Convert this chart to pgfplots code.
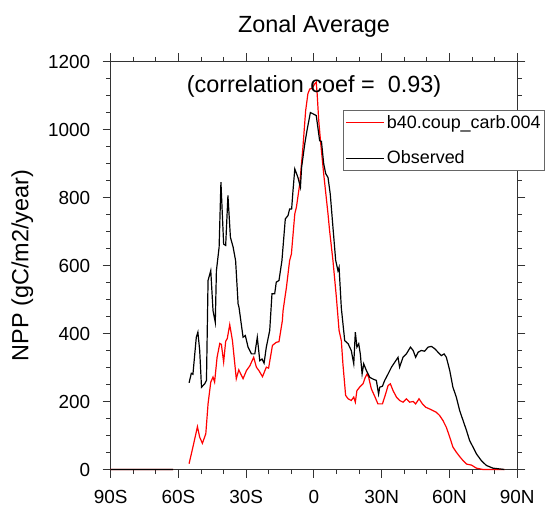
\documentclass[border=0pt]{standalone}
\usepackage{fontspec}
\setmainfont{Liberation Sans}
\usepackage{pgfplots}
\pgfplotsset{compat=1.18}

\begin{document}
\begin{tikzpicture}
\useasboundingbox (-110.7bp,-38.5bp) rectangle (436.3bp,469.5bp);
\begin{axis}[
  at={(0,0)}, anchor=south west,
  scale only axis, width=406.6bp, height=408bp,
  xmin=-90, xmax=90, ymin=0, ymax=1200,
  xtick={-90,-60,-30,0,30,60,90},
  xticklabels={90S,60S,30S,0,30N,60N,90N},
  ytick={0,200,400,600,800,1000,1200},
  minor x tick num=2, minor y tick num=3,
  tick align=outside,
  major tick length=8bp, minor tick length=4.5bp,
  axis line style={line width=1.2bp, black!80},
  every tick/.style={line width=1bp, black!80},
  tick label style={font=\fontsize{19}{21}\selectfont},
  xticklabel style={yshift=-9bp},
  yticklabel style={xshift=-9bp},
  /pgf/number format/assume math mode=true,
  /pgf/number format/1000 sep={},
  unbounded coords=jump,
  clip=false,
  legend cell align=left,
  legend style={at={(0.572,0.881)}, anchor=north west,
    draw=black!60, line width=0.8bp,
    font=\fontsize{18}{20}\selectfont,
    inner xsep=2bp, inner ysep=3bp, row sep=17bp},
  legend image code/.code={\draw[#1, line width=1.3bp] (0bp,0bp) -- (38bp,0bp);},
]
% model
\addplot[draw=red, line width=1.2bp] coordinates {
(-90,0) (-62.4,0) (-58,nan)
(-55.3,17) (-53.6,66) (-51.6,126) (-50.6,95) (-49.4,77) (-47.9,105)
(-46.9,193) (-45.7,257) (-44.7,272) (-44.0,257) (-42.9,330) (-41.7,371)
(-41.0,368) (-40.0,316) (-39.1,377) (-38.4,385) (-37.3,426) (-36.1,379)
(-34.4,267) (-33.3,293) (-31.4,267) (-29.9,291) (-28.4,305) (-26.7,330)
(-25.5,301) (-24.3,290) (-22.8,273) (-21.1,301) (-20.1,298) (-18.4,365)
(-16.7,374) (-15.5,376) (-14.0,438) (-13.7,467) (-12.2,536) (-10.8,614)
(-10.0,634) (-8.5,752) (-7.8,771) (-6.3,840) (-4.9,948) (-3.7,1055)
(-2.7,1105) (-1.9,1119) (-0.8,1121) (0.3,1134) (1.0,1139) (1.4,1105)
(2.1,1026) (3.0,958) (4.3,869) (6.2,752) (6.9,703) (8.4,614) (9.9,507)
(11.1,409) (12.1,379) (12.8,311) (14.0,218) (15.1,208) (16.5,203)
(17.6,213) (18.3,198) (19.0,232) (20.2,242) (21.7,252) (22.7,271)
(23.5,281) (24.2,271) (25.4,237) (26.9,215) (28.3,193) (30.3,193)
(31.7,222) (32.8,247) (33.8,252) (35.0,232) (36.5,213) (37.9,203)
(39.4,198) (40.9,208) (42.4,198) (43.9,200) (45.0,193) (46.5,208)
(48.0,193) (49.5,183) (51.2,178) (52.7,173) (54.2,168) (55.6,159)
(57.1,144) (58.6,124) (60.1,95) (61.5,66) (63.0,51) (64.5,38) (66.0,26)
(67.5,16) (69.7,13) (71.9,4) (74.8,0) (84.3,0)
};
\addlegendentry{b40.coup\_carb.004}
% observed
\addplot[draw=black, line width=1.2bp] coordinates {
(-90,0) (-62.4,0) (-58,nan)
(-55.3,255) (-54.3,283) (-53.6,280) (-52.1,389) (-51.4,404) (-50.6,350)
(-49.8,242) (-48.4,252) (-47.6,262) (-46.9,556) (-45.7,585) (-44.7,467)
(-43.7,433) (-43.2,585) (-42.0,654) (-41.2,845) (-40.0,663) (-39.1,659)
(-38.1,806) (-37.0,683) (-35.8,654) (-34.7,614) (-33.6,487) (-33.2,477)
(-31.4,389) (-30.4,394) (-29.2,360) (-27.7,340) (-26.2,340) (-25.1,389)
(-24.0,320) (-23.0,325) (-22.1,313) (-21.1,360) (-19.6,409) (-18.6,517)
(-17.4,517) (-16.7,551) (-15.5,556) (-14.2,614) (-12.7,737) (-11.5,747)
(-10.8,766) (-9.9,766) (-9.3,820) (-8.5,884) (-7.1,859) (-6.0,830)
(-5.5,888) (-4.1,957) (-3.1,997) (-1.6,1050) (-0.4,1046) (1.0,1041)
(2.5,967) (3.3,965) (4.3,899) (5.2,870) (6.2,859) (7.2,810) (8.4,712)
(9.6,615) (10.6,585) (11.1,595) (12.1,475) (13.6,379) (15.1,370)
(16.5,350) (17.6,311) (18.3,404) (19.0,360) (19.8,370) (20.5,340)
(21.3,281) (22.0,311) (23.2,291) (24.7,271) (26.1,266) (27.6,262)
(28.6,222) (29.1,242) (30.3,245) (31.3,262) (32.8,281) (34.3,301)
(35.8,316) (37.2,330) (37.9,301) (39.4,330) (40.9,340) (42.7,360)
(43.9,350) (45.0,330) (46.1,345) (47.5,350) (49.0,348) (50.5,360)
(52.0,362) (53.5,355) (54.9,345) (56.4,335) (57.6,340) (58.6,330)
(60.1,291) (61.5,242) (63.0,213) (64.5,173) (66.0,144) (67.5,115)
(68.9,85) (70.4,66) (71.9,46) (74.1,26) (76.3,12) (79.2,4) (84.3,0)
};
\addlegendentry{Observed}
\node[anchor=base, font=\fontsize{23.5}{26}\selectfont]
  at (rel axis cs:0.5,0.925) {(correlation coef =\ \ 0.93)};
\node[anchor=base, font=\fontsize{23.5}{26}\selectfont]
  at (rel axis cs:0.5,1) [yshift=28.5bp] {Zonal Average};
\node[xshift=-82.4bp, anchor=base, rotate=90, font=\fontsize{23.5}{26}\selectfont]
  at (rel axis cs:0,0.5) {NPP (gC/m2/year)};
\end{axis}
\end{tikzpicture}
\end{document}
